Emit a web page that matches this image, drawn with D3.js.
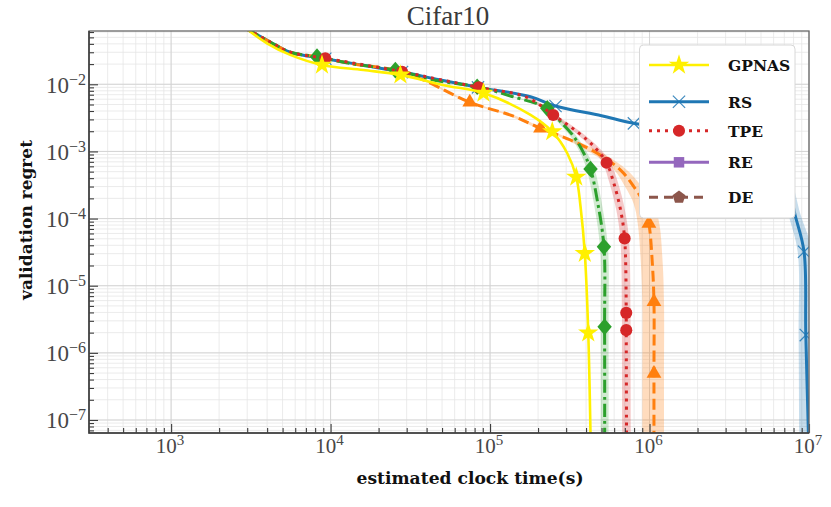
<!DOCTYPE html>
<html><head><meta charset="utf-8">
<script src="https://cdn.jsdelivr.net/npm/d3@7"></script>
<style>body{margin:0;background:#fff}</style>
</head><body><svg id="c" width="831" height="507"></svg>
<script>
// ---------------- data ----------------
const chartTitle = "Cifar10";
const xLabel = "estimated clock time(s)";
const yLabel = "validation regret";
const xTickExps = [3, 4, 5, 6, 7];
const yTickExps = [-2, -3, -4, -5, -6, -7];
const legendNames = ["GPNAS", "RS", "TPE", "RE", "DE"];

// rows: [time (s), regret, band spread below (decades), band spread above (decades)]
const gpnas = [
  [3000, 0.066, 0, 0], [3990, 0.0408, 0, 0], [5585, 0.0274, 0, 0], [8830, 0.0194, 0, 0],
  [16040, 0.0163, 0, 0], [27400, 0.0138, 0, 0], [51300, 0.0097, 0, 0], [90900, 0.0074, 0, 0],
  [179300, 0.0035, 0, 0], [245500, 0.00197, 0, 0], [304800, 0.00094, 0, 0], [347100, 0.000416, 0, 0],
  [369400, 0.00015, 0, 0], [392700, 3.03e-5, 0, 0], [412800, 1.99e-6, 0, 0], [428600, 3e-8, 0, 0]
];
const gpnasMarks = [3, 5, 7, 9, 11, 13, 14];

const rs = [
  [3000, 0.066, .01, .01], [4180, 0.0427, .01, .01], [5585, 0.0300, .01, .01], [9262, 0.0240, .01, .01],
  [16000, 0.0192, .01, .01], [28060, 0.0152, .01, .01], [48000, 0.0117, .01, .01], [84000, 0.0090, .015, .015],
  [179300, 0.00653, .015, .015], [257300, 0.00475, .02, .02], [500000, 0.0034, .02, .02], [798000, 0.00262, .02, .02],
  [2500000, 0.0018, .02, .02], [5000000, 0.0011, .02, .02], [7000000, 0.0005, .03, .02],
  [8180000, 0.000113, .04, .035], [9310000, 3.2e-5, .04, .05], [9550000, 1.84e-6, .045, .04], [10000000, 3e-8, .06, .02]
];
const rsMarks = [3, 5, 7, 9, 11, 16, 17];

const tpe = [
  [3000, 0.066, .01, .01], [4180, 0.0427, .01, .01], [5585, 0.0300, .01, .01], [9262, 0.0244, .01, .01],
  [16000, 0.0195, .01, .01], [28060, 0.0154, .01, .01], [48000, 0.0118, .01, .01], [84920, 0.0090, .01, .01],
  [170000, 0.0064, .015, .015], [248900, 0.00349, .015, .015], [319700, 0.00233, .02, .02], [406900, 0.00148, .022, .022],
  [469900, 0.00105, .025, .025], [537900, 0.00068, .025, .025], [597600, 0.000335, .027, .027], [658400, 0.000134, .027, .027],
  [697900, 5.07e-5, .027, .027], [714500, 3.94e-6, .027, .027], [714500, 2.18e-6, .027, .027], [718000, 3e-8, .027, .027]
];
const tpeMarks = [3, 5, 7, 9, 13, 16, 17, 18];

const greenRun = [
  [3000, 0.066, .01, .01], [4180, 0.0427, .01, .01], [5585, 0.0300, .01, .01], [8216, 0.0258, .01, .01],
  [14000, 0.0200, .01, .01], [25470, 0.0163, .01, .01], [45000, 0.0115, .01, .01], [83000, 0.0092, .01, .01],
  [134000, 0.0067, .015, .015], [228300, 0.00439, .015, .015], [276700, 0.00277, .02, .02], [335400, 0.00166, .02, .02],
  [387300, 0.000937, .022, .022], [426600, 0.000547, .025, .025], [469900, 0.000189, .025, .025], [517700, 3.8e-5, .025, .025],
  [522600, 2.44e-6, .025, .025], [523000, 3e-8, .025, .025]
];
const greenMarks = [3, 5, 7, 9, 13, 15, 16];

const orangeRun = [
  [3000, 0.066, .01, .01], [4180, 0.0427, .01, .01], [5585, 0.0300, .01, .01], [8216, 0.0258, .01, .01],
  [14000, 0.0200, .01, .01], [25470, 0.0163, .01, .01], [38190, 0.0116, .01, .01], [74590, 0.0054, .015, .015],
  [140300, 0.00335, .02, .02], [207200, 0.00221, .02, .02], [319700, 0.00148, .025, .025], [469900, 0.000937, .035, .035],
  [658400, 0.000528, .04, .04], [798000, 0.000298, .055, .05], [922600, 0.000168, .065, .06], [991000, 8.48e-5, .07, .065],
  [1041000, 2.17e-5, .072, .065], [1066000, 5.75e-6, .073, .063], [1066000, 4.93e-7, .073, .063], [1066000, 3e-8, .073, .063]
];
const orangeMarks = [7, 9, 15, 17, 18];

// ---------------- layout ----------------
const M = {left: 89, right: 809, top: 31, bottom: 433};
const svg = d3.select("#c");

const x = d3.scaleLog().domain([305.5, 1e7]).range([M.left, M.right]);
const y = d3.scaleLog().domain([0.0622, 6.4e-8]).range([M.top, M.bottom]);

const symbolPentagon = {
  draw(ctx, size) {
    const r = Math.sqrt(size / 2.378);
    for (let i = 0; i < 5; i++) {
      const a = -Math.PI / 2 + i * 2 * Math.PI / 5;
      const px = r * Math.cos(a), py = r * Math.sin(a);
      if (i === 0) ctx.moveTo(px, py); else ctx.lineTo(px, py);
    }
    ctx.closePath();
  }
};
const symbolDiamondSq = {
  draw(ctx, size) {
    const h = Math.sqrt(size / 2);
    ctx.moveTo(0, -h * 1.1); ctx.lineTo(h * 0.95, 0); ctx.lineTo(0, h * 1.1); ctx.lineTo(-h * 0.95, 0); ctx.closePath();
  }
};

const styles = {
  GPNAS: {color: "#fff000", dash: null, width: 2.6, sym: d3.symbolStar, size: 130, stroke: false},
  RS: {color: "#1f77b4", dash: null, width: 3, sym: d3.symbolTimes, size: 100, stroke: true},
  TPE: {color: "#d62728", dash: "3,5", width: 3, sym: d3.symbolCircle, size: 115, stroke: false},
  RE: {color: "#9467bd", dash: null, width: 3, sym: d3.symbolSquare, size: 110, stroke: false},
  DE: {color: "#8c564b", dash: "9,6", width: 3, sym: symbolPentagon, size: 110, stroke: false},
  green: {color: "#2ca02c", dash: "13,4,3,4", width: 3, sym: symbolDiamondSq, size: 115, stroke: false},
  orange: {color: "#ff7f0e", dash: "11,5", width: 3, sym: d3.symbolTriangle, size: 95, stroke: false}
};

svg.append("defs").append("clipPath").attr("id", "clip")
  .append("rect").attr("x", M.left).attr("y", M.top)
  .attr("width", M.right - M.left).attr("height", M.bottom - M.top);

// ---------------- grid ----------------
const xMinor = [], yMinor = [];
for (let e = 2; e <= 7; e++) for (let k = 1; k <= 9; k++) {
  const v = k * Math.pow(10, e);
  if (v >= 305.5 && v <= 1e7) xMinor.push(v);
}
for (let e = -8; e <= -2; e++) for (let k = 1; k <= 9; k++) {
  const v = k * Math.pow(10, e);
  if (v >= 6.4e-8 && v <= 0.0622) yMinor.push(v);
}
const xMajor = xTickExps.map(e => Math.pow(10, e));
const yMajor = yTickExps.map(e => Math.pow(10, e));

const grid = svg.append("g");
grid.selectAll(".gxm").data(xMinor).enter().append("line")
  .attr("x1", d => x(d)).attr("x2", d => x(d)).attr("y1", M.top).attr("y2", M.bottom)
  .attr("stroke", "#e6e6e6").attr("stroke-width", 0.8);
grid.selectAll(".gym").data(yMinor).enter().append("line")
  .attr("y1", d => y(d)).attr("y2", d => y(d)).attr("x1", M.left).attr("x2", M.right)
  .attr("stroke", "#e6e6e6").attr("stroke-width", 0.8);
grid.selectAll(".gxM").data(xMajor).enter().append("line")
  .attr("x1", d => x(d)).attr("x2", d => x(d)).attr("y1", M.top).attr("y2", M.bottom)
  .attr("stroke", "#d2d2d2").attr("stroke-width", 0.9);
grid.selectAll(".gyM").data(yMajor).enter().append("line")
  .attr("y1", d => y(d)).attr("y2", d => y(d)).attr("x1", M.left).attr("x2", M.right)
  .attr("stroke", "#d2d2d2").attr("stroke-width", 0.9);

// ---------------- series ----------------
const curve = d3.curveCatmullRom.alpha(0.5);
const plot = svg.append("g").attr("clip-path", "url(#clip)");
const series = [
  {data: rs, marks: rsMarks, st: styles.RS, bandOpacity: 0.25},
  {data: orangeRun, marks: orangeMarks, st: styles.orange, bandOpacity: 0.27},
  {data: greenRun, marks: greenMarks, st: styles.green, bandOpacity: 0.22},
  {data: tpe, marks: tpeMarks, st: styles.TPE, bandOpacity: 0.25},
  {data: gpnas, marks: gpnasMarks, st: styles.GPNAS, bandOpacity: 0}
];

const area = d3.area().curve(curve)
  .y(d => y(d[1]))
  .x0(d => x(d[0] / Math.pow(10, d[2])))
  .x1(d => x(d[0] * Math.pow(10, d[3])));
const line = d3.line().curve(curve).x(d => x(d[0])).y(d => y(d[1]));

series.forEach(s => {
  if (s.bandOpacity > 0)
    plot.append("path").attr("d", area(s.data)).attr("fill", s.st.color)
      .attr("fill-opacity", s.bandOpacity).attr("stroke", "none");
});

function drawMarker(g, st, cx, cy) {
  const p = g.append("path").attr("d", d3.symbol(st.sym, st.size)())
    .attr("transform", `translate(${cx},${cy})`);
  if (st.stroke) p.attr("fill", "none").attr("stroke", st.color).attr("stroke-width", 1.2).attr("stroke-opacity", 0.85);
  else p.attr("fill", st.color).attr("stroke", "none");
}

series.forEach(s => {
  plot.append("path").attr("d", line(s.data)).attr("fill", "none")
    .attr("stroke", s.st.color).attr("stroke-width", s.st.width)
    .attr("stroke-dasharray", s.st.dash).attr("stroke-linejoin", "round");
  s.marks.forEach(i => {
    const d = s.data[i];
    drawMarker(plot, s.st, x(d[0]), y(d[1]));
  });
});

// ---------------- axes ----------------
const axB = svg.append("g").attr("transform", `translate(0,${M.bottom})`)
  .call(d3.axisBottom(x).tickValues(xMajor).tickSize(-9).tickFormat(""));
const axBm = svg.append("g").attr("transform", `translate(0,${M.bottom})`)
  .call(d3.axisBottom(x).tickValues(xMinor.filter(v => !xMajor.includes(v))).tickSize(-5).tickFormat(""));
const axL = svg.append("g").attr("transform", `translate(${M.left},0)`)
  .call(d3.axisLeft(y).tickValues(yMajor).tickSize(-9).tickFormat(""));
const axLm = svg.append("g").attr("transform", `translate(${M.left},0)`)
  .call(d3.axisLeft(y).tickValues(yMinor.filter(v => !yMajor.some(m => Math.abs(m - v) / m < 1e-9))).tickSize(-5).tickFormat(""));
[axB, axBm, axL, axLm].forEach(a => {
  a.select(".domain").remove();
  a.selectAll("line").attr("stroke", "#3c3c3c").attr("stroke-width", 1.1);
});

svg.append("rect").attr("x", M.left).attr("y", M.top)
  .attr("width", M.right - M.left).attr("height", M.bottom - M.top)
  .attr("fill", "none").attr("stroke", "#6a6a6a").attr("stroke-width", 1.3);
svg.append("path").attr("d", `M${M.left},${M.top}V${M.bottom}H${M.right}`)
  .attr("fill", "none").attr("stroke", "#3a3a3a").attr("stroke-width", 1.5);

const serif = "'Liberation Serif', 'DejaVu Serif', serif";
xTickExps.forEach(e => {
  const t = svg.append("text").attr("x", x(Math.pow(10, e)) - 1).attr("y", 453)
    .attr("text-anchor", "middle").attr("font-family", serif).attr("fill", "#474747");
  t.append("tspan").attr("font-size", 21).text("10");
  t.append("tspan").attr("font-size", 15).attr("dy", -8).text(String(e));
});
yTickExps.forEach(e => {
  const t = svg.append("text").attr("x", 86).attr("y", y(Math.pow(10, e)) + 8.5)
    .attr("text-anchor", "end").attr("font-family", serif).attr("fill", "#474747");
  t.append("tspan").attr("font-size", 23).text("10");
  t.append("tspan").attr("font-size", 16).attr("dy", -8).text("\u2212" + Math.abs(e));
});

svg.append("text").attr("x", 448).attr("y", 25).attr("text-anchor", "middle")
  .attr("font-family", serif).attr("font-size", 27).attr("fill", "#3a3a3a").text(chartTitle);

const boldSerif = "'DejaVu Serif', 'Liberation Serif', serif";
svg.append("text").attr("x", 470).attr("y", 484).attr("text-anchor", "middle")
  .attr("font-family", boldSerif).attr("font-weight", "bold").attr("font-size", 17)
  .attr("textLength", 227).attr("lengthAdjust", "spacingAndGlyphs")
  .attr("fill", "#111").text(xLabel);
svg.append("text").attr("transform", "translate(32,220) rotate(-90)").attr("text-anchor", "middle")
  .attr("font-family", boldSerif).attr("font-weight", "bold").attr("font-size", 17)
  .attr("textLength", 160).attr("lengthAdjust", "spacingAndGlyphs")
  .attr("fill", "#111").text(yLabel);

// ---------------- legend ----------------
const lg = svg.append("g");
lg.append("rect").attr("x", 639.5).attr("y", 45).attr("width", 155.5).attr("height", 173)
  .attr("rx", 4).attr("fill", "#fff").attr("stroke", "#d8d8d8").attr("stroke-width", 1);
const rowY = [65, 101.7, 130.7, 162.3, 197.3];
legendNames.forEach((name, i) => {
  const st = styles[name];
  const yy = rowY[i];
  lg.append("line").attr("x1", 649).attr("x2", 709).attr("y1", yy).attr("y2", yy)
    .attr("stroke", st.color).attr("stroke-width", st.width).attr("stroke-dasharray", st.dash);
  drawMarker(lg, st, 679, yy);
  lg.append("text").attr("x", 728).attr("y", yy + 6)
    .attr("font-family", boldSerif).attr("font-weight", "bold").attr("font-size", 15.5)
    .attr("fill", "#111").text(name);
});
</script>
</body></html>
